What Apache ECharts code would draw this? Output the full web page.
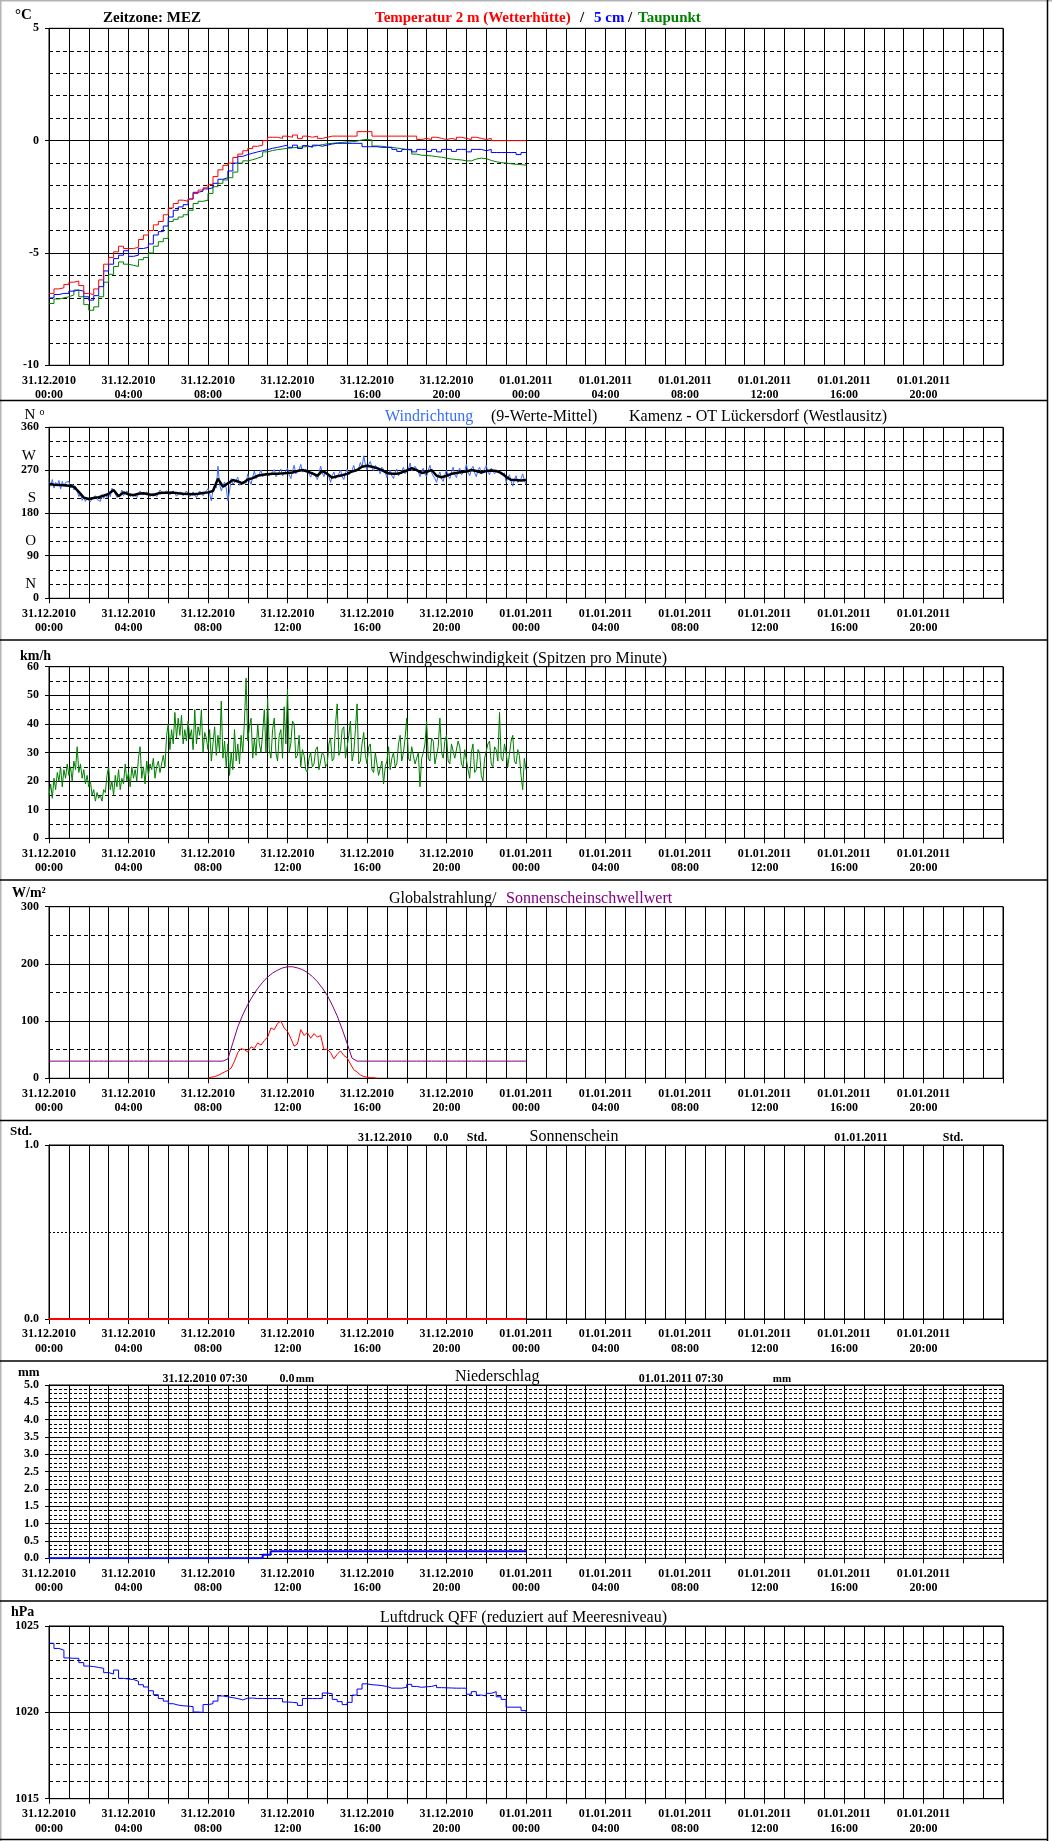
<!DOCTYPE html>
<html><head><meta charset="utf-8">
<script src="https://cdn.jsdelivr.net/npm/echarts/dist/echarts.min.js"></script>
<style>html,body{margin:0;padding:0;background:#fff}#c{width:1052px;height:1841px}</style>
</head><body><div id="c"></div><script>
// ---------- DATA (hours after 31.12.2010 00:00) ----------
const dateLabels = ['31.12.2010', '01.01.2011'];
const timeLabels = ['00:00', '04:00', '08:00', '12:00', '16:00', '20:00'];
const step15 = 0.25;   // 15-min series
const step10 = 1 / 6;  // 10-min series
const step5 = 1 / 12;  // 5-min series

const tempRed = [
 -6.8,-6.6,-6.55,-6.4,-6.3,-6.25,-6.45,-6.8,
 -6.85,-6.6,-6.2,-5.5,-5.2,-4.95,-4.7,-4.8,
 -4.8,-4.75,-4.4,-4.2,-4.0,-3.75,-3.6,-3.3,
 -3.0,-2.8,-2.65,-2.7,-2.6,-2.35,-2.2,-2.1,
 -1.95,-1.6,-1.3,-1.1,-1.0,-0.75,-0.6,-0.45,
 -0.35,-0.25,-0.2,0.0,0.15,0.15,0.1,0.2,
 0.15,0.25,0.1,0.2,0.15,0.2,0.1,0.15,
 0.2,0.2,0.2,0.2,0.2,0.2,0.4,0.4,
 0.4,0.2,0.2,0.2,0.2,0.2,0.2,0.2,
 0.2,0.2,0.05,0.1,0.05,0.15,0.1,0.05,
 0.1,0.05,0.15,0.1,0.05,0.15,0.1,0.05,
 0.1,0.0,0.0,0.0,0.0,0.0,0.0,0.0,
 0.0];
const tempBlue = [
 -7.0,-6.85,-6.8,-6.8,-6.7,-6.65,-6.7,-6.95,
 -7.1,-6.9,-6.5,-5.8,-5.5,-5.25,-5.1,-4.9,
 -5.15,-5.1,-4.8,-4.75,-4.6,-4.2,-4.05,-3.8,
 -3.4,-3.1,-2.95,-2.85,-2.6,-2.3,-2.25,-2.15,
 -2.1,-1.9,-1.72,-1.65,-1.35,-1.0,-0.7,-0.62,
 -0.56,-0.5,-0.45,-0.4,-0.34,-0.3,-0.25,-0.2,
 -0.3,-0.2,-0.35,-0.22,-0.3,-0.2,-0.25,-0.2,
 -0.15,-0.12,-0.12,-0.12,-0.12,-0.12,-0.12,-0.27,
 -0.27,-0.27,-0.3,-0.3,-0.3,-0.39,-0.48,-0.39,
 -0.39,-0.5,-0.39,-0.39,-0.48,-0.39,-0.5,-0.39,
 -0.39,-0.48,-0.39,-0.39,-0.5,-0.39,-0.39,-0.45,
 -0.39,-0.53,-0.53,-0.53,-0.53,-0.53,-0.62,-0.53,
 -0.53];
const tempDew = [
 -7.25,-7.05,-7.0,-6.95,-6.87,-6.65,-6.95,-7.3,
 -7.55,-7.4,-6.95,-6.3,-5.95,-5.6,-5.4,-5.5,
 -5.55,-5.6,-5.3,-5.2,-5.0,-4.7,-4.5,-4.35,
 -3.6,-3.5,-3.4,-3.3,-3.1,-2.8,-2.7,-2.65,
 -2.35,-2.05,-1.9,-1.75,-1.65,-1.4,-1.0,-0.9,
 -0.85,-0.78,-0.7,-0.5,-0.44,-0.4,-0.37,-0.34,
 -0.32,-0.3,-0.28,-0.27,-0.25,-0.22,-0.18,-0.14,
 -0.12,-0.1,-0.08,-0.06,-0.05,-0.02,0.03,0.05,
 0.03,-0.24,-0.25,-0.28,-0.3,-0.33,-0.36,-0.4,
 -0.42,-0.6,-0.65,-0.66,-0.68,-0.71,-0.74,-0.78,
 -0.82,-0.84,-0.86,-0.9,-0.9,-0.82,-0.78,-0.8,
 -0.88,-0.94,-0.98,-1.0,-1.03,-1.05,-1.07,-1.09,
 -1.12];

// raw wind direction, 5-min
const windDirRaw = [
 245,236,250,232,244,238,248,230,246,236,244,240,
 246,232,240,228,236,226,214,220,206,212,204,210,
 214,203,210,206,216,208,212,204,219,210,218,212,
 224,214,232,226,220,212,210,218,228,216,214,226,
 225,214,211,220,222,212,214,226,229,218,215,224,
 224,214,210,222,226,214,216,228,231,220,217,226,
 228,218,214,226,227,215,213,224,225,216,212,226,
 226,214,211,224,224,212,213,226,229,216,212,226,
 231,220,205,228,238,232,278,240,226,236,245,232,
 205,226,252,240,236,248,255,238,234,246,248,242,
 262,248,240,256,268,252,250,262,270,256,252,264,
 268,258,254,266,271,256,252,266,272,258,255,268,
 274,260,252,268,280,262,258,270,282,266,262,272,
 274,262,255,266,268,256,250,262,278,264,256,268,
 270,256,244,258,266,252,248,262,270,256,250,264,
 272,260,256,270,280,266,262,274,286,276,300,282,
 270,282,288,274,268,280,284,270,262,276,272,266,
 254,264,270,258,252,266,272,258,256,268,276,262,
 260,272,285,268,265,278,280,266,256,268,274,262,
 256,270,280,264,262,252,244,258,266,252,246,260,
 270,258,252,266,276,260,254,268,274,260,256,268,
 282,266,258,272,278,264,256,270,276,262,258,272,
 280,266,260,274,276,262,258,270,272,260,256,264,
 244,254,260,246,236,250,258,244,240,252,262,248,
 240];
// 9-value mean, 15-min
const windDirMean = [
 241,239,238.5,238,237,235,224,212,
 209,211,213,216,220,228,215,223,
 219,217,220,221,219,217.5,221,222,
 222,222.5,221,220,219.5,219,220,221.5,
 223,226,252,235,242,249,246,242,
 250,253,258,260,261,262,262,263,
 264,265,268,270,267,263,258,268,
 262,254,257,259,262,267,270,277,
 279,277,274,270,264,262,262,265,
 269,274,270,264,266,270,258,255,
 258,262,264,266,267,270,268,265,
 268,269,268,264,256,249,249,248,
 249];

// wind speed peaks, 5-min
const windSpeed = [
 15,19,14,21,17,23,20,25,18,24,21,26,
 22,25,20,27,24,32,23,26,21,24,19,22,
 18,20,15,17,13,16,14,15,13,17,16,22,
 25,17,20,15,22,18,24,17,21,19,26,20,
 23,18,25,21,24,20,28,32,21,25,19,27,
 22,26,24,28,21,25,27,23,26,29,25,36,
 40,31,38,33,44,35,42,36,43,33,38,34,
 41,35,38,31,45,33,39,36,45,30,37,35,
 31,38,27,33,39,29,36,30,48,28,34,25,
 33,22,30,24,38,27,33,26,36,30,41,56,
 34,39,42,28,35,29,40,33,30,37,45,30,
 49,31,28,38,42,30,27,36,38,28,46,33,
 52,30,33,41,40,28,29,36,25,31,29,24,
 23,28,30,25,26,31,32,24,24,30,29,25,
 26,33,35,27,28,40,47,29,31,38,39,28,
 28,36,41,27,30,38,47,26,27,33,37,29,
 26,32,33,24,23,30,30,22,22,27,19,25,
 27,32,24,28,30,25,26,33,36,27,30,35,
 42,28,27,32,32,26,26,30,18,28,30,33,
 41,28,27,35,34,26,26,32,42,30,28,34,
 36,27,26,33,33,28,28,34,32,26,25,31,
 31,24,21,30,33,23,24,31,30,22,20,28,
 28,33,34,26,25,32,31,27,44,28,27,33,
 30,25,25,34,36,27,26,31,29,22,17,28,
 24];

const radStart = 8;    // global radiation record starts 08:00 (10-min)
const radGlobal = [
 0,2,3,5,8,11,
 14,18,30,45,52,50,
 46,55,52,62,58,66,
 72,88,85,96,100,88,
 82,70,56,60,85,75,
 80,70,78,72,75,50,
 51,45,34,42,48,40,
 36,25,15,11,6,3,
 2,1,1,0];
const radThreshold = [
 30,30,30,30,30,30,30,30,
 30,30,30,30,30,30,30,30,
 30,30,30,30,30,30,30,30,
 30,30,30,30,30,30,30,30,
 30,30,30,30,34,62,90,111,
 129,144,157,168,177,184,189,193,
 195,195,193,190,185,178,169,158,
 145,128,109,86,61,35,30,30,
 30,30,30,30,30,30,30,30,
 30,30,30,30,30,30,30,30,
 30,30,30,30,30,30,30,30,
 30,30,30,30,30,30,30,30,
 30];

const sunHours = [0, 24];
const sunValues = [0, 0];

const precipHours = [0, 10.75, 11.15, 24];
const precipValues = [0, 0.1, 0.2, 0.2];

const pressure = [
 1024.0,1023.7,1023.6,1023.15,1023.13,1023.13,1022.88,1022.68,
 1022.65,1022.6,1022.55,1022.3,1022.22,1022.45,1021.97,1021.93,
 1021.9,1021.8,1021.6,1021.47,1021.25,1021.02,1020.8,1020.65,
 1020.5,1020.42,1020.38,1020.36,1020.33,1020.02,1020.0,1020.45,
 1020.5,1020.65,1020.95,1020.9,1020.85,1020.8,1020.72,1020.82,
 1020.83,1020.8,1020.8,1020.8,1020.8,1020.8,1020.8,1020.6,
 1020.58,1020.55,1020.4,1020.8,1020.8,1020.8,1020.8,1021.12,
 1021.08,1020.75,1020.62,1020.45,1020.58,1021.0,1021.35,1021.65,
 1021.6,1021.58,1021.55,1021.5,1021.4,1021.4,1021.4,1021.45,
 1021.62,1021.5,1021.45,1021.48,1021.5,1021.58,1021.43,1021.42,
 1021.41,1021.4,1021.4,1021.4,1021.05,1021.2,1021.0,1020.95,
 1021.1,1021.2,1020.9,1020.75,1020.3,1020.3,1020.3,1020.1,
 1019.95];

// ---------- helpers ----------
const pairs = (arr, step, start) => arr.map((v, i) => [(start || 0) + i * step, v]);
const zip = (xs, ys) => xs.map((x, i) => [x, ys[i]]);
const FONT = '"Liberation Serif","Times New Roman",serif';

const panels = [
 {top: 28.3, height: 337, min: -10, max: 5, major: 5, minor: 1, dash: [4, 3]},
 {top: 427.3, height: 171, min: 0, max: 360, major: 90, minor: 30, dash: [4, 3]},
 {top: 666.7, height: 171.6, min: 0, max: 60, major: 10, minor: 5, dash: [4, 3]},
 {top: 906.7, height: 171.6, min: 0, max: 300, major: 100, minor: 50, dash: [4, 3]},
 {top: 1145, height: 174, min: 0, max: 1, major: 1, minor: 0.5, dash: [2, 2], fix: 1},
 {top: 1385, height: 173.3, min: 0, max: 5, major: 0.5, minor: 0.125, dash: [3, 2], fix: 1},
 {top: 1626, height: 172.7, min: 1015, max: 1025, major: 5, minor: 1, dash: [4, 3]}
];

const grid = [], xAxis = [], yAxis = [];
panels.forEach((p, i) => {
  grid.push({left: 49, width: 954, top: p.top, height: p.height, show: true,
    borderColor: '#000', borderWidth: 1, backgroundColor: 'transparent'});
  xAxis.push({gridIndex: i, type: 'value', position: 'bottom', min: 0, max: 48, interval: 1,
    axisLine: {show: true, lineStyle: {color: '#000', width: 1}},
    axisTick: {show: false}, axisLabel: {show: false},
    splitLine: {show: true, lineStyle: {color: '#000', width: 1}}});
  xAxis.push({gridIndex: i, type: 'value', position: 'bottom', offset: 0, min: 0, max: 48, interval: 2,
    axisLine: {show: false},
    axisTick: {show: true, length: 5, lineStyle: {color: '#000'}},
    splitLine: {show: false},
    axisLabel: {show: true, margin: 8, color: '#000', fontFamily: FONT, fontWeight: 'bold',
      fontSize: 12, lineHeight: 14.5,
      formatter: v => (v % 4 === 0 && v < 48) ?
        dateLabels[Math.floor(v / 24)] + '\n' + timeLabels[(v % 24) / 4] : ''}});
  yAxis.push({gridIndex: i, type: 'value', position: 'left', min: p.min, max: p.max, interval: p.major,
    axisLine: {show: true, lineStyle: {color: '#000'}},
    axisTick: {show: true, length: 4, lineStyle: {color: '#000'}},
    splitLine: {show: true, lineStyle: {color: '#000', width: 1}},
    axisLabel: {show: true, margin: 10, color: '#000', fontFamily: FONT, fontWeight: 'bold',
      fontSize: 12, formatter: v => p.fix ? v.toFixed(1) : String(v)}});
  const minor = {gridIndex: i, type: 'value', position: 'left', offset: 0, min: p.min, max: p.max, interval: p.minor,
    axisLine: {show: false}, axisTick: {show: false},
    splitLine: {show: true, lineStyle: {color: '#000', width: 1, type: p.dash}},
    axisLabel: {show: false}};
  if (i === 1) {
    const letters = {300: 'W', 210: 'S', 120: 'O', 30: 'N'};
    minor.axisLabel = {show: true, margin: 13, color: '#000', fontFamily: FONT, fontSize: 15,
      formatter: v => letters[v] || ''};
  }
  yAxis.push(minor);
});

const line = (gi, data, color, width, extra) => Object.assign({
  type: 'line', xAxisIndex: gi * 2, yAxisIndex: gi * 2, data: data, showSymbol: false,
  symbol: 'none', lineStyle: {color: color, width: width}, itemStyle: {color: color},
  animation: false, silent: true, z: 5}, extra || {});

const series = [
  line(0, pairs(tempDew, step15), '#008000', 1, {step: 'end'}),
  line(0, pairs(tempBlue, step15), '#0000ff', 1, {step: 'end'}),
  line(0, pairs(tempRed, step15), '#ff0000', 1, {step: 'end'}),
  line(1, pairs(windDirRaw, step5), '#3a6cff', 1),
  line(1, pairs(windDirMean, step15), '#000000', 2.5),
  line(2, pairs(windSpeed, step5), '#008000', 1),
  line(3, pairs(radThreshold, step15), '#800080', 1),
  line(3, pairs(radGlobal, step10, radStart), '#ff0000', 1),
  line(4, zip(sunHours, sunValues), '#ff0000', 2),
  line(5, zip(precipHours, precipValues), '#0000ff', 2, {step: 'end'}),
  line(6, pairs(pressure, step15), '#0000ff', 1, {step: 'end'})
];

// ---------- texts and frame ----------
const txt = (text, x, y, opt) => {
  opt = opt || {};
  return {type: 'text', z: 100, style: {text: text, x: x, y: y,
    font: (opt.bold ? 'bold ' : '') + (opt.size || 16) + 'px ' + FONT,
    fill: opt.color || '#000', textAlign: opt.align || 'left', textVerticalAlign: 'middle'}};
};
const hline = (y) => ({type: 'line', z: 100, shape: {x1: 0, y1: y, x2: 1047, y2: y},
  style: {stroke: '#000', lineWidth: 1.5}});

const graphic = [
  {type: 'line', z: 100, shape: {x1: 0.5, y1: 0, x2: 0.5, y2: 1841}, style: {stroke: '#b4b4b4', lineWidth: 2}},
  {type: 'line', z: 100, shape: {x1: 0, y1: 0.5, x2: 1052, y2: 0.5}, style: {stroke: '#b4b4b4', lineWidth: 2}},
  {type: 'line', z: 100, shape: {x1: 1047.5, y1: 0, x2: 1047.5, y2: 1841}, style: {stroke: '#000', lineWidth: 1.5}},
  hline(400.5), hline(640), hline(880), hline(1120.5), hline(1361), hline(1601), hline(1839.5),
  // panel 1
  txt('°C', 15, 15, {bold: true, size: 15}),
  txt('Zeitzone: MEZ', 103, 18, {bold: true, size: 15}),
  txt('Temperatur 2 m (Wetterhütte)', 375, 18, {bold: true, size: 15, color: '#ff0000'}),
  txt('/', 582, 18, {bold: true, size: 15, align: 'center'}),
  txt('5 cm', 594, 18, {bold: true, size: 15, color: '#0000ff'}),
  txt('/', 630, 18, {bold: true, size: 15, align: 'center'}),
  txt('Taupunkt', 638, 18, {bold: true, size: 15, color: '#008000'}),
  // panel 2
  txt('N', 30, 415, {size: 15, align: 'center'}),
  txt('o', 42, 412, {size: 10, align: 'center'}),
  txt('Windrichtung', 385, 417, {color: '#3a6cff'}),
  txt('(9-Werte-Mittel)', 491, 417),
  txt('Kamenz - OT Lückersdorf (Westlausitz)', 629, 417),
  // panel 3
  txt('km/h', 20, 656, {bold: true, size: 14}),
  txt('Windgeschwindigkeit (Spitzen pro Minute)', 389, 659),
  // panel 4
  txt('W/m²', 12, 893, {bold: true, size: 14}),
  txt('Globalstrahlung/', 389, 899),
  txt('Sonnenscheinschwellwert', 506, 899, {color: '#800080'}),
  // panel 5
  txt('Std.', 10, 1132, {bold: true, size: 13}),
  txt('31.12.2010', 385, 1138, {bold: true, size: 12, align: 'center'}),
  txt('0.0', 441, 1138, {bold: true, size: 12, align: 'center'}),
  txt('Std.', 477, 1138, {bold: true, size: 12, align: 'center'}),
  txt('Sonnenschein', 574, 1137, {align: 'center'}),
  txt('01.01.2011', 861, 1138, {bold: true, size: 12, align: 'center'}),
  txt('Std.', 953, 1138, {bold: true, size: 12, align: 'center'}),
  // panel 6
  txt('mm', 18, 1373, {bold: true, size: 13}),
  txt('31.12.2010 07:30', 205, 1379, {bold: true, size: 12, align: 'center'}),
  txt('0.0', 287, 1379, {bold: true, size: 12, align: 'center'}),
  txt('mm', 305, 1379, {bold: true, size: 11, align: 'center'}),
  txt('Niederschlag', 455, 1377),
  txt('01.01.2011 07:30', 681, 1379, {bold: true, size: 12, align: 'center'}),
  txt('mm', 782, 1379, {bold: true, size: 11, align: 'center'}),
  // panel 7
  txt('hPa', 11, 1612, {bold: true, size: 14}),
  txt('Luftdruck QFF (reduziert auf Meeresniveau)', 380, 1618)
];

const chart = echarts.init(document.getElementById('c'), null, {renderer: 'canvas'});
chart.setOption({animation: false, backgroundColor: '#fff',
  grid: grid, xAxis: xAxis, yAxis: yAxis, series: series, graphic: graphic});
</script></body></html>
